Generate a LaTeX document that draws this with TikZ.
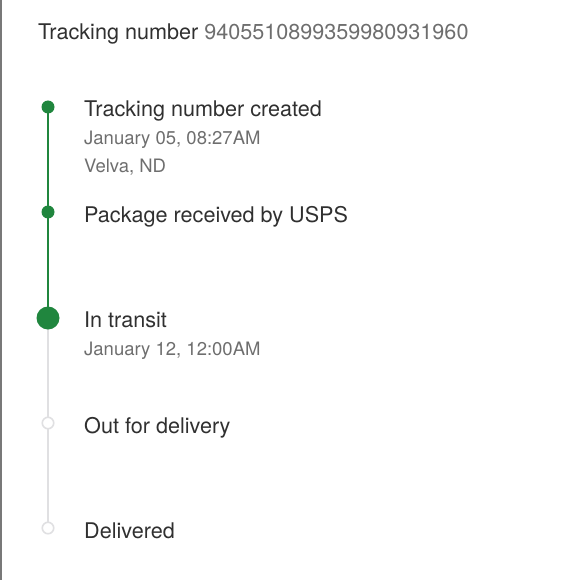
\documentclass[tikz,border=0pt]{standalone}
\usepackage{fontspec}
\setmainfont{TeX Gyre Heros}
\usetikzlibrary{backgrounds}
\definecolor{trackgreen}{RGB}{32,134,62}
\definecolor{trackgrey}{RGB}{224,224,226}
\definecolor{textdark}{RGB}{48,48,48}
\definecolor{textgrey}{RGB}{110,110,110}
\definecolor{edgegrey}{RGB}{120,120,120}
\tikzset{
  headtext/.style={anchor=base west, inner sep=0pt, font=\fontsize{21.6}{24}\selectfont, text=textdark},
  titletext/.style={anchor=base west, inner sep=0pt, font=\fontsize{21.6}{24}\selectfont, text=textdark},
  subtext/.style={anchor=base west, inner sep=0pt, font=\fontsize{18.5}{21}\selectfont, text=textgrey},
  donedot/.style={circle, fill=trackgreen, inner sep=0pt, minimum size=13pt},
  currentdot/.style={circle, fill=trackgreen, inner sep=0pt, minimum size=23pt},
  pendingdot/.style={circle, draw=trackgrey, line width=1.6pt, fill=white, inner sep=0pt, minimum size=11.5pt},
  doneline/.style={draw=trackgreen, line width=1.8pt},
  pendingline/.style={draw=trackgrey, line width=1.8pt},
}
\begin{document}
\begin{tikzpicture}[x=1pt,y=-1pt]
\useasboundingbox (0,0) rectangle (580,580);
% left edge rule
\coordinate (edgetop) at (1,0);
\coordinate (edgebot) at (1,580);
\draw[edgegrey, line width=2pt] (edgetop) -- (edgebot);

% header
\node[headtext] (head) at (38,40) {Tracking number \textcolor{textgrey}{9405510899359980931960}};

% dots
\node[donedot] (d1) at (48,107) {};
\node[donedot] (d2) at (48,212) {};
\node[currentdot] (d3) at (48,318) {};
\node[pendingdot] (d4) at (48,423) {};
\node[pendingdot] (d5) at (48,528) {};

% connectors
\begin{scope}[on background layer]
\draw[pendingline] (d3.center) -- (d4.center);
\draw[pendingline] (d4.center) -- (d5.center);
\draw[doneline] (d1.center) -- (d2.center);
\draw[doneline] (d2.center) -- (d3.center);
\end{scope}

% texts
\node[titletext] (t1) at (84,117) {Tracking number created};
\node[subtext] (s1a) at (84,145) {January 05, 08:27AM};
\node[subtext] (s1b) at (84,172) {Velva, ND};
\node[titletext] (t2) at (84,222) {Package received by USPS};
\node[titletext] (t3) at (84,327) {In transit};
\node[subtext] (s3a) at (84,355) {January 12, 12:00AM};
\node[titletext] (t4) at (84,433) {Out for delivery};
\node[titletext] (t5) at (84,538) {Delivered};
\end{tikzpicture}
\end{document}
